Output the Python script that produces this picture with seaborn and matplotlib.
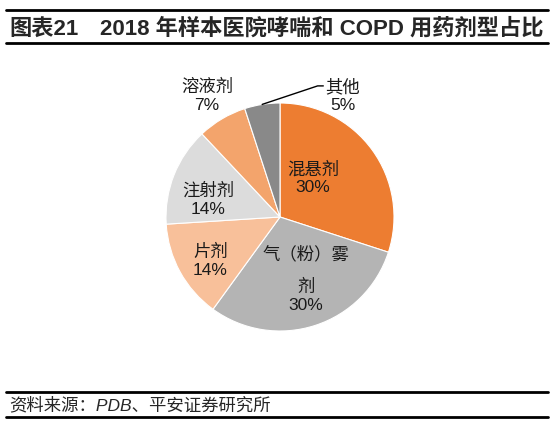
import numpy as np
import matplotlib
matplotlib.use("Agg")
import matplotlib.pyplot as plt
import seaborn as sns
from matplotlib.lines import Line2D

# ---------------------------------------
# Data
# ---------------------------------------
categories = ["混悬剂", "气（粉）雾剂", "片剂", "注射剂", "溶液剂", "其他"]
shares = [30, 30, 14, 14, 7, 5]
colors = ["#ED7D31", "#B4B4B4", "#F8C09A", "#DCDCDC", "#F3A46C", "#898989"]
title_tag = "图表21"
title_text = "2018 年样本医院哮喘和 COPD 用药剂型占比"
source_text = "资料来源：PDB、平安证券研究所"

# ---------------------------------------
# Style
# ---------------------------------------
sns.set_theme(style="white")
fonts = ["Liberation Sans", "Noto Sans CJK SC", "DejaVu Sans"]
plt.rcParams["font.family"] = fonts

W, H = 554, 431
fig = plt.figure(figsize=(W / 100, H / 100), dpi=100)

# pie axes: centre (280, 218) px, radius 114 px
cx, cy, r = 280, 218, 114
ax = fig.add_axes([(cx - r) / W, (H - cy - r) / H, 2 * r / W, 2 * r / H])
wedges, _ = ax.pie(shares, colors=colors, startangle=90, counterclock=False,
                   wedgeprops=dict(edgecolor="white", linewidth=0.8))
ax.set_xlim(-1, 1)
ax.set_ylim(-1, 1)
ax.axis("off")

txt = dict(ha="center", va="center", fontsize=12.5, color="#1a1a1a", linespacing=1.25)

# labels inside / around the wedges
ax.text(0.29, 0.35, f"{categories[0]}\n{shares[0]}%", **txt)
ax.text(0.23, -0.32, "气（粉）雾", **txt)
ax.text(0.23, -0.68, f"剂\n{shares[1]}%", **txt)
ax.text(-0.61, -0.38, f"{categories[2]}\n{shares[2]}%", **txt)
ax.text(-0.63, 0.16, f"{categories[3]}\n{shares[3]}%", **txt)
ax.text(-0.64, 1.07, f"{categories[4]}\n{shares[4]}%", **txt)
ax.text(0.55, 1.07, f"{categories[5]}\n{shares[5]}%", **txt)

# leader line for the small "其他" slice
w = wedges[5]
mid = np.deg2rad((w.theta1 + w.theta2) / 2)
ax.plot([np.cos(mid), 0.33, 0.38], [np.sin(mid), 1.15, 1.15],
        color="black", lw=1.0, clip_on=False)

# ---------------------------------------
# Title, rules and source
# ---------------------------------------
def hline(py, lw=2.0):
    fig.add_artist(Line2D([6 / W, 548 / W], [1 - py / H, 1 - py / H],
                          color="black", lw=lw))

hline(11)
hline(44)
hline(393)
hline(418)

fig.text(9 / W, 1 - 29 / H, title_tag, ha="left", va="center",
         fontsize=16, fontweight="bold", family=fonts)
fig.text(100 / W, 1 - 29 / H, title_text, ha="left", va="center",
         fontsize=16, fontweight="bold", family=fonts)
fig.text(9 / W, 1 - 405 / H, source_text, ha="left", va="center",
         fontsize=12.5, style="italic", family=fonts)

fig.savefig("out.png", dpi=100)
